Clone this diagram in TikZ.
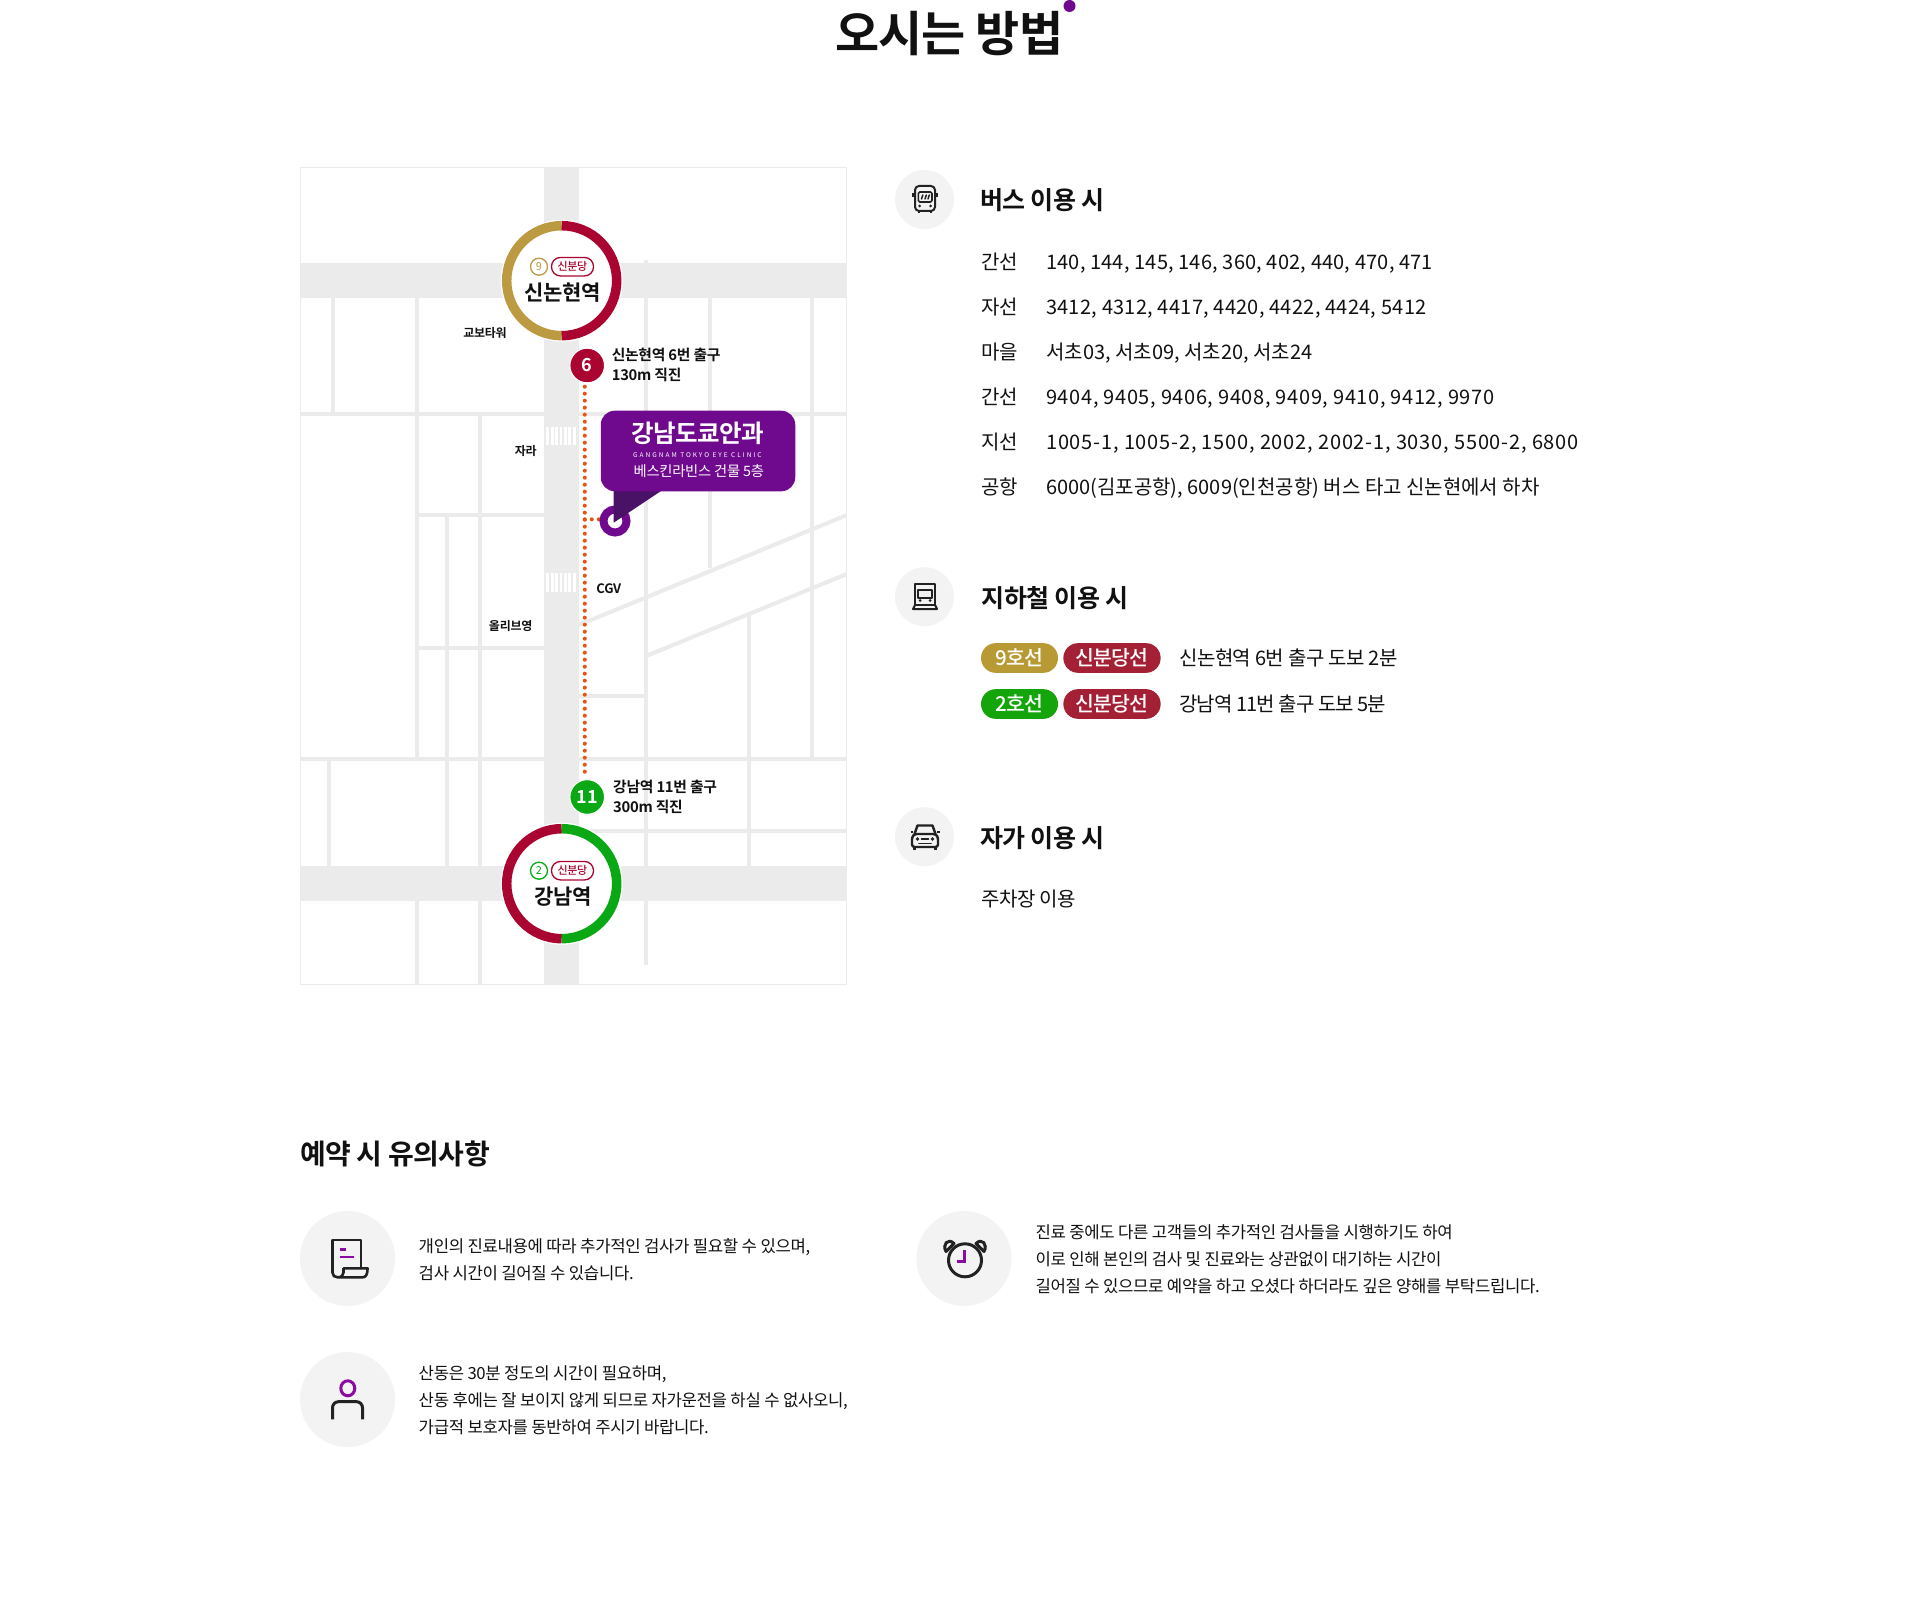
\documentclass[tikz,border=0pt]{standalone}
\usepackage{fontspec}
\setmainfont{Noto Sans CJK KR}[BoldFont={Noto Sans CJK KR Bold},LetterSpace=-2]
\newfontfamily\medfont{Noto Sans CJK KR Medium}[LetterSpace=-3]
\newcommand\fz[1]{\fontsize{#1}{#1}\selectfont}
\newcommand\lsp[1]{\addfontfeature{LetterSpace=#1}}
\definecolor{road}{HTML}{EBEBEB}
\definecolor{ink}{HTML}{111111}
\definecolor{icobg}{HTML}{F3F3F3}
\definecolor{purp}{HTML}{6F0A8E}
\definecolor{purpdk}{HTML}{4A1266}
\definecolor{line9}{HTML}{BC9A42}
\definecolor{lineS}{HTML}{AA0530}
\definecolor{line2}{HTML}{0AA814}
\definecolor{pill9}{HTML}{B89A34}
\definecolor{pillS}{HTML}{A32035}
\definecolor{pill2}{HTML}{14A50A}
\definecolor{orng}{HTML}{E8540F}
\definecolor{icoln}{HTML}{222222}
\definecolor{icop}{HTML}{8A0CA0}
\tikzset{
  street/.style={draw=road,line width=4pt},
  wideroad/.style={fill=road},
  sz/.style={font=\fz{#1},yshift={-0.38*#1*1pt},text height=0pt,text depth=0pt},
  szb/.style={font=\bfseries\fz{#1},yshift={-0.38*#1*1pt},text height=0pt,text depth=0pt},
  szm/.style={font=\medfont\fz{#1},yshift={-0.38*#1*1pt},text height=0pt,text depth=0pt},
  txt/.style={inner sep=0pt,anchor=base west,text=ink},
  ctxt/.style={inner sep=0pt,anchor=base,text=ink},
  route/.style={draw=orng,line width=4pt,line cap=round,dash pattern=on 0pt off 7pt},
  ico/.style={draw=icoln,line width=2pt,line cap=round,line join=round},
  icoacc/.style={draw=icop,line width=3pt,line cap=round,line join=round},
  icocirc/.style={circle,fill=icobg,inner sep=0pt},
  pilltag/.style={rounded corners=14.8pt,minimum height=29.7pt,inner sep=0pt,text=white,font=\medfont\fz{20.5},text height=16.4pt,text depth=.7pt},
  hd/.style={txt,szb=25},
  rowt/.style={txt,sz=20},
  note/.style={txt,sz=16.7},
  maplbl/.style={ctxt,szb=12},
  exitlbl/.style={txt,szb=14.8},
  badge/.style={circle,draw=#1,fill=white,line width=1.3pt,minimum size=17pt,inner sep=0pt,text=#1,font=\fz{11}},
  redtag/.style={draw=lineS,fill=white,line width=1.3pt,rounded corners=9pt,minimum width=42pt,minimum height=18.5pt,inner sep=0pt,text=lineS,font=\medfont\fz{11},text height=8.8pt,text depth=.4pt},
  stname/.style={ctxt,szb=21},
  exitdot/.style={circle,fill=#1,draw=white,line width=1pt,minimum size=34.6pt,inner sep=0pt,text=white,font=\bfseries\fz{18}},
}
\begin{document}
\begin{tikzpicture}[x=1pt,y=-1pt]
\useasboundingbox (0,0) rectangle (1920,1616);
\fill[white] (0,0) rectangle (1920,1616);
% ---- title
\node[ctxt,szb=48] (title) at (949.4,33) {오시는 방법};
\node[circle,fill=purp,minimum size=12pt,inner sep=0pt] (titledot) at (1069.5,6) {};
% ---- map
\begin{scope}
\clip (300,167.3) rectangle (846.7,984);
\fill[wideroad] (544.2,167) rectangle (578.7,985);
\fill[wideroad] (300,262.7) rectangle (847,298);
\fill[wideroad] (300,866) rectangle (847,901.3);
% thin streets
\draw[street] (333,298) -- (333,414);
\draw[street] (417,298) -- (417,759);
\draw[street] (300,414) -- (847,414);
\draw[street] (480,414) -- (480,866);
\draw[street] (417,515) -- (544,515);
\draw[street] (446.6,515) -- (446.6,866);
\draw[street] (417,647.7) -- (544,647.7);
\draw[street] (300,759) -- (847,759);
\draw[street] (329,759) -- (329,866);
\draw[street] (417,901) -- (417,985);
\draw[street] (480,901) -- (480,985);
\draw[street] (646,260) -- (646,965);
\draw[street] (710.4,298) -- (710.4,568);
\draw[street] (812,298) -- (812,759);
\draw[street] (748.6,615) -- (748.6,866);
\draw[street] (578,830.7) -- (847,830.7);
\draw[street] (578,695.7) -- (646,695.7);
\draw[street] (578.7,625) -- (847,515);
\draw[street] (646,656) -- (847,574);
% crosswalks
\foreach \cy in {426.7,573}{
  \foreach \k in {0,...,6}{
    \fill[white] (546.3+\k*4.4,\cy) rectangle (549.1+\k*4.4,\cy+18.5);
  }
}
\end{scope}
\draw[road,line width=1pt] (300,167.3) rectangle (846.7,984);
% exits
\node[exitdot=lineS] (exit6) at (587.2,365.5) {6};
\node[exitdot=line2] (exit11) at (587.2,797) {11};
% route
\coordinate (routetop) at (584.8,386.7);
\coordinate (routebot) at (584.8,776);
\coordinate (routejoin) at (584.8,519.3);
\coordinate (pinw) at (599,519.3);
\draw[route] (routetop) -- (routebot);
\draw[route] (routejoin) -- (pinw);
% pin + sign
\node[circle,draw=purp,fill=white,line width=8pt,minimum size=23pt,inner sep=0pt] (pin) at (615,521) {};
\fill[purpdk] (613.6,485) -- (670,485) -- (613.6,522.7) -- cycle;
\node[fill=purp,rounded corners=14pt,minimum width=194.5pt,minimum height=80.6pt,inner sep=0pt] (sign) at (698,451) {};
\node[ctxt,szb=24.5,text=white] (signa) at (697.4,433.3) {강남도쿄안과};
\node[ctxt,text=white,font=\fontsize{6.5}{6.5}\selectfont\lsp{31},yshift=-2.5pt,text height=0pt,text depth=0pt] (signb) at (697.4,455.3) {GANGNAM TOKYO EYE CLINIC};
\node[ctxt,sz=14.3,text=white] (signc) at (698.8,471) {베스킨라빈스 건물 5층};
% exit labels
\node[exitlbl] (e6a) at (611.6,355) {신논현역 6번 출구};
\node[exitlbl] (e6b) at (611.6,375) {130m 직진};
\node[exitlbl] (e11a) at (613,787.3) {강남역 11번 출구};
\node[exitlbl] (e11b) at (613,807.3) {300m 직진};
% stations
\fill[white] (561.7,280.7) circle[radius=61pt];
\draw[line9,line width=9.5pt] (561.7,225.7) arc[start angle=90,end angle=270,radius=55pt];
\draw[lineS,line width=9.5pt] (561.7,225.7) arc[start angle=90,end angle=-90,radius=55pt];
\node[badge=line9] (b9) at (539,266.7) {9};
\node[redtag] (t9) at (572.5,266.7) {신분당};
\node[stname] (sta1) at (562.8,293) {신논현역};
\fill[white] (561.7,883.7) circle[radius=61pt];
\draw[lineS,line width=9.5pt] (561.7,828.7) arc[start angle=90,end angle=270,radius=55pt];
\draw[line2,line width=9.5pt] (561.7,828.7) arc[start angle=90,end angle=-90,radius=55pt];
\node[badge=line2] (b2) at (539,870.7) {2};
\node[redtag] (t2) at (572.5,870.7) {신분당};
\node[stname] (sta2) at (562.8,896.7) {강남역};
% map labels
\node[maplbl] (l1) at (485,332.7) {교보타워};
\node[maplbl] (l2) at (525.8,451) {자라};
\node[ctxt,szb=13] (l3) at (608.8,589) {CGV};
\node[maplbl] (l4) at (510.7,626) {올리브영};
% ---- bus
\node[icocirc,minimum size=59pt] (cb) at (924.5,199.5) {};
\begin{scope}[shift={(925,200)}]
\draw[ico,rounded corners=4pt] (-10,-14) rectangle (10,11);
\draw[ico,rounded corners=1.5pt,line width=1.6pt] (-6.7,-8) rectangle (7,2);
\draw[ico,line width=1.5pt] (-3.5,-1) -- (-2.2,-5) (0,-1) -- (1.3,-5) (3,-1) -- (4.3,-5);
\draw[ico,line width=2.6pt,line cap=butt] (-6,11) -- (-6,13) (6,11) -- (6,13);
\draw[ico,line width=2.4pt,line cap=butt] (-12,-7) -- (-12,-3) (12,-7) -- (12,-3);
\fill[icoln] (-5.5,6) circle[radius=1.5pt] (5.5,6) circle[radius=1.5pt];
\end{scope}
\node[hd] (hbus) at (980,200.5) {버스 이용 시};
\node[rowt] (a1) at (981.3,261.7) {간선}; \node[rowt] (a2) at (1046,261.7) {\lsp{1}140, 144, 145, 146, 360, 402, 440, 470, 471};
\node[rowt] (b1) at (981.3,306.7) {자선}; \node[rowt] (b2) at (1046,306.7) {\lsp{1.4}3412, 4312, 4417, 4420, 4422, 4424, 5412};
\node[rowt] (c1) at (981.3,351.7) {마을}; \node[rowt] (c2) at (1046,351.7) {\lsp{0}서초03, 서초09, 서초20, 서초24};
\node[rowt] (d1) at (981.3,396.7) {간선}; \node[rowt] (d2) at (1046,396.7) {\lsp{3}9404, 9405, 9406, 9408, 9409, 9410, 9412, 9970};
\node[rowt] (f1) at (981.3,441.7) {지선}; \node[rowt] (f2) at (1046,441.7) {\lsp{3.8}1005-1, 1005-2, 1500, 2002, 2002-1, 3030, 5500-2, 6800};
\node[rowt] (g1) at (981.3,486.7) {공항}; \node[rowt] (g2) at (1046,486.7) {\lsp{0}6000(김포공항), 6009(인천공항) 버스 타고 신논현에서 하차};
% ---- subway
\node[icocirc,minimum size=59pt] (cs) at (924.5,596.7) {};
\begin{scope}[shift={(925,597)}]
\draw[ico] (-10,8) -- (-10,-12.7) -- (10,-12.7) -- (10,8) -- cycle;
\draw[ico] (-10,8) -- (-12,12) -- (12,12) -- (10,8);
\draw[ico,line width=1.8pt] (-6.7,-7.3) rectangle (6.7,0.7);
\fill[icoln] (-5,3.5) circle[radius=1.5pt] (5,3.5) circle[radius=1.5pt];
\end{scope}
\node[hd] (hsub) at (981.5,597.7) {지하철 이용 시};
\node[pilltag,fill=pill9,minimum width=77pt] (p1) at (1019.5,658) {9호선};
\node[pilltag,fill=pillS,minimum width=97.3pt] (p2) at (1112,658) {신분당선};
\node[rowt] (s1) at (1179,658) {\lsp{-2.5}신논현역 6번 출구 도보 2분};
\node[pilltag,fill=pill2,minimum width=77pt] (p3) at (1019.5,704) {2호선};
\node[pilltag,fill=pillS,minimum width=97.3pt] (p4) at (1112,704) {신분당선};
\node[rowt] (s2) at (1179,704) {\lsp{-4.5}강남역 11번 출구 도보 5분};
% ---- car
\node[icocirc,minimum size=59pt] (cc) at (924.5,836.7) {};
\begin{scope}[shift={(925,837)}]
\draw[ico,line width=2.4pt] (-10.5,-3) -- (-7.5,-11.5) -- (7.5,-11.5) -- (10.5,-3);
\draw[ico,line width=2.4pt,rounded corners=2.5pt] (-13,10) -- (-13,0) -- (-10.5,-3) -- (10.5,-3) -- (13,0) -- (13,10) -- cycle;
\draw[ico,line width=3.6pt,line cap=butt] (-10.5,10) -- (-10.5,13) (10.5,10) -- (10.5,13);
\draw[ico,line width=2pt,line cap=butt] (-14.5,-5) -- (-12,-5) (14.5,-5) -- (12,-5);
\fill[icoln] (-7.5,2) circle[radius=1.8pt] (7.5,2) circle[radius=1.8pt];
\draw[ico,line width=1.8pt] (-3.5,2) -- (3.5,2) (-6,6.5) -- (6,6.5);
\end{scope}
\node[hd] (hcar) at (980,837.7) {자가 이용 시};
\node[rowt] (carp) at (981,899.3) {주차장 이용};
% ---- notes
\node[txt,szb=28] (hnote) at (300,1153.7) {예약 시 유의사항};
\node[icocirc,minimum size=95pt] (n1) at (347.5,1258.5) {};
\begin{scope}[shift={(347.5,1258.5)}]
\draw[ico,line width=2.6pt] (-15,14) -- (-15,-18.5) -- (13.5,-18.5) -- (13.5,9.8);
\draw[ico,line width=2.6pt] (-15,14) .. controls (-15,17) and (-13,18.8) .. (-10,18.8) -- (15,18.8) .. controls (18,18.8) and (20,17) .. (20,9.8) -- (-4,9.8) -- (-4,14) .. controls (-4,17) and (-6,18.8) .. (-10,18.8);
\draw[icoacc,line width=2.4pt,line cap=butt] (-8,-9.2) -- (-1.5,-9.2) (-8,-1.8) -- (6.8,-1.8);
\end{scope}
\node[note] (t1a) at (418.5,1246) {개인의 진료내용에 따라 추가적인 검사가 필요할 수 있으며,};
\node[note] (t1b) at (418.5,1273) {검사 시간이 길어질 수 있습니다.};
\node[icocirc,minimum size=95pt] (n2) at (347.5,1399.5) {};
\begin{scope}[shift={(347.5,1399.5)}]
\draw[icoacc] (0.3,-11.2) ellipse[x radius=7pt,y radius=7.5pt];
\draw[ico,line width=3pt,line cap=butt] (-15,19.8) -- (-15,8.2) arc[start angle=180,end angle=90,radius=6pt] -- (9,2.2) arc[start angle=90,end angle=0,radius=6pt] -- (15,19.8);
\end{scope}
\node[note] (t2a) at (418.5,1373.5) {산동은 30분 정도의 시간이 필요하며,};
\node[note] (t2b) at (418.5,1400.5) {산동 후에는 잘 보이지 않게 되므로 자가운전을 하실 수 없사오니,};
\node[note] (t2c) at (418.5,1427.5) {가급적 보호자를 동반하여 주시기 바랍니다.};
\node[icocirc,minimum size=95pt] (n3) at (964,1258.5) {};
\begin{scope}[shift={(964,1258.5)}]
\draw[ico,line width=3pt] (1,1.8) circle[radius=16.5pt];
\draw[ico,line width=3pt] (-18,-7) .. controls (-22,-14) and (-16,-21) .. (-10,-15) -- cycle;
\draw[ico,line width=3pt] (20,-7) .. controls (24,-14) and (18,-21) .. (12,-15) -- cycle;
\draw[icoacc,line cap=butt,line join=miter] (0.8,-8.5) -- (0.8,3.2) -- (-7,3.2);
\end{scope}
\node[note] (t3a) at (1035.3,1232.5) {진료 중에도 다른 고객들의 추가적인 검사들을 시행하기도 하여};
\node[note] (t3b) at (1035.3,1259.5) {이로 인해 본인의 검사 및 진료와는 상관없이 대기하는 시간이};
\node[note] (t3c) at (1035.3,1286.5) {길어질 수 있으므로 예약을 하고 오셨다 하더라도 깊은 양해를 부탁드립니다.};
\end{tikzpicture}
\end{document}
